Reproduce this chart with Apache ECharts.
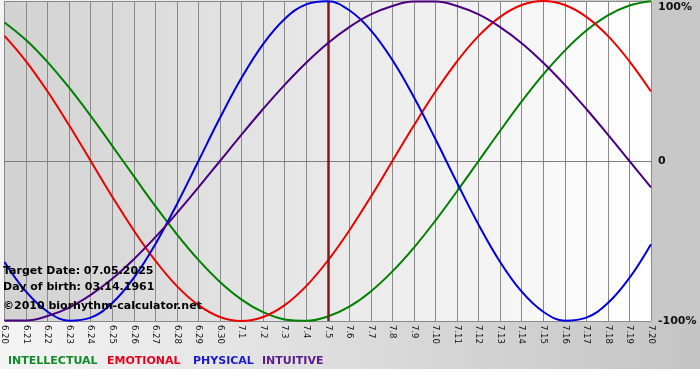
<!DOCTYPE html>
<html>
<head>
<meta charset="utf-8">
<script src="https://cdn.jsdelivr.net/npm/echarts@6/dist/echarts.min.js"></script>
<style>html,body{margin:0;padding:0;background:#fff}#c{width:700px;height:380px}</style>
</head>
<body>
<div id="c"></div>
<script>
var days = ['6.20','6.21','6.22','6.23','6.24','6.25','6.26','6.27','6.28','6.29','6.30',
  '7.1','7.2','7.3','7.4','7.5','7.6','7.7','7.8','7.9','7.10','7.11','7.12','7.13','7.14',
  '7.15','7.16','7.17','7.18','7.19','7.20'];
var intellectual = [86.6,75.6,61.8,45.8,28.2,9.5,-9.5,-28.2,-45.8,-61.8,-75.6,-86.6,-94.5,-99.0,-99.9,-97.2,-91.0,-81.5,-69.0,-54.1,-37.2,-18.9,0,18.9,37.2,54.1,69.0,81.5,91.0,97.2,99.9];
var emotional = [78.2,62.3,43.4,22.3,0,-22.3,-43.4,-62.3,-78.2,-90.1,-97.5,-100,-97.5,-90.1,-78.2,-62.3,-43.4,-22.3,0,22.3,43.4,62.3,78.2,90.1,97.5,100,97.5,90.1,78.2,62.3,43.4];
var physical = [-63.1,-81.7,-94.2,-99.8,-97.9,-88.8,-73.1,-52.0,-27.0,0,27.0,52.0,73.1,88.8,97.9,99.8,94.2,81.7,63.1,39.8,13.6,-13.6,-39.8,-63.1,-81.7,-94.2,-99.8,-97.9,-88.8,-73.1,-52.0];
var intuitive = [-99.7,-99.7,-96.9,-91.6,-83.7,-73.6,-61.4,-47.6,-32.5,-16.5,0,16.5,32.5,47.6,61.4,73.6,83.7,91.6,96.9,99.7,99.7,96.9,91.6,83.7,73.6,61.4,47.6,32.5,16.5,0,-16.5];
var yTicks = [-100, 0, 100];
var targetDay = '7.5';
var infoLines = ['Target Date: 07.05.2025', 'Day of birth: 03.14.1961', '\u00a92010 biorhythm-calculator.net'];
var legendNames = ['INTELLECTUAL', 'EMOTIONAL', 'PHYSICAL', 'INTUITIVE'];

var colors = ['#008000', '#ee0000', '#0000dd', '#4b0082'];
var legendColors = ['#118a2a', '#e8001c', '#1a1ad0', '#5a1a8a'];
var legendX = [8, 107, 193, 262];
var font = '"DejaVu Sans", Verdana, sans-serif';

var chart = echarts.init(document.getElementById('c'), null, {renderer: 'canvas'});
var seriesData = [intellectual, emotional, physical, intuitive];
var series = seriesData.map(function (d, i) {
  return {
    type: 'line', name: legendNames[i], data: d, smooth: 0.4, symbol: 'none',
    lineStyle: {color: colors[i], width: 2}, z: 3 + i,
    markLine: i === 0 ? {
      silent: true, symbol: 'none', label: {show: false},
      lineStyle: {color: '#851818', width: 2.5, type: 'solid'},
      data: [{xAxis: targetDay}]
    } : undefined
  };
});

var graphics = [
  {type: 'rect', z: -10, shape: {x: 0, y: 0, width: 700, height: 369},
   style: {fill: new echarts.graphic.LinearGradient(0, 0, 1, 0, [{offset: 0, color: '#f4f4f4'}, {offset: 1, color: '#c4c4c4'}])}},
  {type: 'rect', z: -9, shape: {x: 651, y: 0, width: 49, height: 321}, style: {fill: '#c8c8c8'}}
];
infoLines.forEach(function (t, i) {
  graphics.push({type: 'text', z: 100, left: 3, top: [266, 282, 301][i],
    style: {text: t, font: 'bold 11px ' + font, fill: '#000'}});
});
legendNames.forEach(function (t, i) {
  graphics.push({type: 'text', z: 100, left: legendX[i], top: 356,
    style: {text: t, font: 'bold 11px ' + font, fill: legendColors[i]}});
});

chart.setOption({
  animation: false,
  backgroundColor: '#ffffff',
  grid: {left: 0, right: 49, top: 1, bottom: 59, show: true, borderWidth: 0,
    backgroundColor: new echarts.graphic.LinearGradient(0, 0, 1, 0, [{offset: 0, color: '#d2d2d2'}, {offset: 1, color: '#ffffff'}])},
  xAxis: {
    type: 'category', data: days, boundaryGap: false,
    axisLine: {show: true, lineStyle: {color: '#808080', width: 1}},
    axisTick: {show: true, interval: 0, length: 3, lineStyle: {color: '#808080'}},
    axisLabel: {interval: 0, rotate: -90, margin: 4, fontSize: 8.5, fontFamily: font, color: '#111'},
    splitLine: {show: true, interval: 0, lineStyle: {color: '#8a8a8a', width: 1}}
  },
  yAxis: {
    type: 'value', position: 'right', min: yTicks[0], max: yTicks[2], interval: 100,
    axisLine: {show: false}, axisTick: {show: false},
    axisLabel: {
      margin: 7, fontFamily: font, fontWeight: 'bold', fontSize: 11, color: '#111',
      formatter: function (v) {
        if (v === 100) return '{t|100%}';
        if (v === 0) return '0';
        return v + '%';
      },
      rich: {t: {fontFamily: font, fontWeight: 'bold', fontSize: 11, color: '#111', padding: [12, 0, 0, 0]}}
    },
    splitLine: {show: true, lineStyle: {color: '#8a8a8a', width: 1}}
  },
  graphic: graphics,
  series: series
});
</script>
</body>
</html>
